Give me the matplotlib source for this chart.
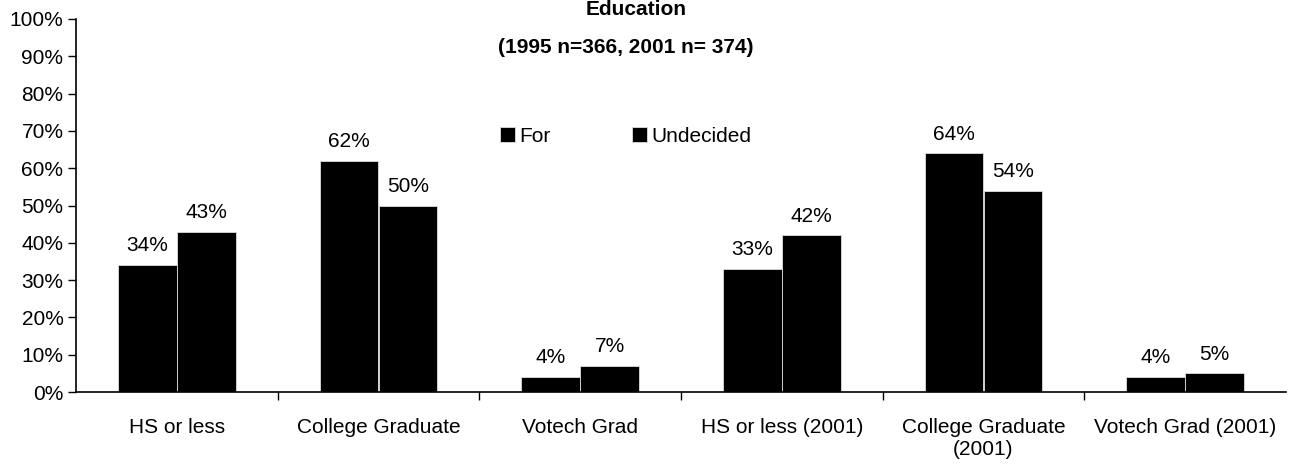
import matplotlib
matplotlib.use("Agg")
import matplotlib.pyplot as plt
from matplotlib.ticker import FixedLocator, PercentFormatter
import numpy as np

categories = ["HS or less", "College Graduate", "Votech Grad",
              "HS or less (2001)", "College Graduate\n(2001)", "Votech Grad (2001)"]
for_vals = [34, 62, 4, 33, 64, 4]
undecided_vals = [43, 50, 7, 42, 54, 5]
series_names = ["For", "Undecided"]

plt.rcParams["font.family"] = ["Liberation Sans", "DejaVu Sans"]
FS = 15

fig = plt.figure(figsize=(12.92, 4.71), dpi=100)
ax = fig.add_axes([76 / 1292, 1 - 392 / 471, (1286 - 76) / 1292, (392 - 19) / 471])

x = np.arange(len(categories))
w = 0.292
b1 = ax.bar(x - w / 2, for_vals, w, color="black", edgecolor="#dddddd",
            linewidth=0.6, label=series_names[0])
b2 = ax.bar(x + w / 2, undecided_vals, w, color="black", edgecolor="#dddddd",
            linewidth=0.6, label=series_names[1])

for bars, vals in ((b1, for_vals), (b2, undecided_vals)):
    for rect, v in zip(bars, vals):
        ax.annotate(f"{v}%", (rect.get_x() + rect.get_width() / 2, v),
                    xytext=(0, 7), textcoords="offset points",
                    ha="center", va="bottom", fontsize=FS)

ax.set_xlim(-0.5, len(categories) - 0.5)
ax.set_ylim(0, 100)
ax.set_yticks(np.arange(0, 101, 10))
ax.yaxis.set_major_formatter(PercentFormatter(decimals=0))
ax.tick_params(axis="y", direction="out", length=6, width=1, labelsize=FS, pad=3)

ax.set_xticks(x)
ax.set_xticklabels(categories, fontsize=FS, linespacing=1.15)
ax.tick_params(axis="x", which="major", length=0, pad=19)
ax.xaxis.set_minor_locator(FixedLocator(np.arange(0.5, len(categories) - 0.5, 1)))
ax.tick_params(axis="x", which="minor", direction="out", length=6, width=1)

for side in ("top", "right"):
    ax.spines[side].set_visible(False)
ax.spines["left"].set_linewidth(1.2)
ax.spines["bottom"].set_linewidth(1.2)

ax.legend(loc="center left", bbox_to_anchor=(0.350, 0.686), ncol=2, frameon=False,
          fontsize=FS, handlelength=0.75, handleheight=0.75, handletextpad=0.2,
          columnspacing=3.9, borderaxespad=0, borderpad=0)

fig.text(0.492, 0.999, "Education", ha="center", va="top",
         fontsize=FS, fontweight="bold")
fig.text(0.484, 0.900, "(1995 n=366, 2001 n= 374)", ha="center", va="center",
         fontsize=FS, fontweight="bold")

fig.savefig("out.png", dpi=100)
